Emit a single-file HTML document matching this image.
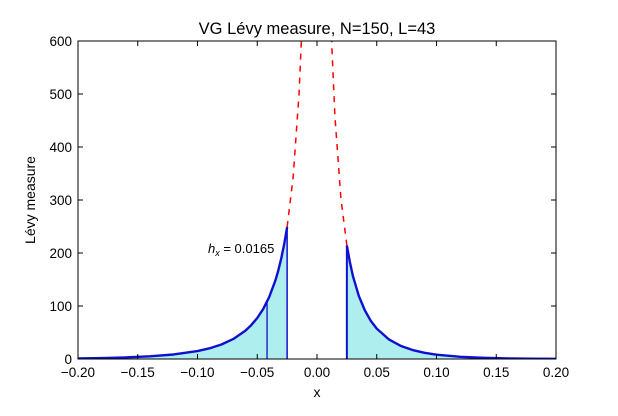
<!DOCTYPE html>
<html><head><meta charset="utf-8"><style>
body{margin:0;background:#fff;}
svg text{font-family:"Liberation Sans",sans-serif;}
</style></head><body>
<svg id="chart" width="618" height="411" xmlns="http://www.w3.org/2000/svg"></svg>
<script>
const leftX=[-0.2,-0.18,-0.16,-0.14,-0.12,-0.1,-0.09,-0.08,-0.07,-0.06,-0.055,-0.05,-0.045,-0.04,-0.035,-0.0325,-0.03,-0.0275,-0.025];
const leftY=[1.1,1.8,3.0,5.0,8.5,15.0,20.1,27.4,37.8,53.3,64,77.4,94.5,117,147,166,189,216,249];
const rightX=[0.025,0.0275,0.03,0.035,0.04,0.045,0.05,0.06,0.07,0.08,0.09,0.1,0.12,0.14,0.16,0.18,0.2];
const rightY=[214,183,157,119,92,72,57.3,37.2,24.8,16.9,11.7,8.2,4.15,2.16,1.15,0.62,0.34];
const dashLX=[-0.025,-0.02,-0.015,-0.0125];
const dashLY=[249,342,501,631];
const dashRX=[0.025,0.02,0.015,0.0125,0.012];
const dashRY=[214,303,458,585,617];
const markerX=-0.0418, markerY=110;
const xTicks=[-0.2,-0.15,-0.1,-0.05,0,0.05,0.1,0.15,0.2];
const xTickLabels=["\u22120.20","\u22120.15","\u22120.10","\u22120.05","0.00","0.05","0.10","0.15","0.20"];
const yTicks=[0,100,200,300,400,500,600];
const yTickLabels=["0","100","200","300","400","500","600"];

const L=78,R=556,T=41,B=359;
const sx=v=>L+(v+0.2)/0.4*(R-L);
const sy=v=>B-v/600*(B-T);
const svg=document.getElementById('chart');
const NS='http://www.w3.org/2000/svg';
function mk(tag,attrs,parent){const e=document.createElementNS(NS,tag);for(const k in attrs)e.setAttribute(k,attrs[k]);(parent||svg).appendChild(e);return e;}
const defs=mk('defs',{});const cp=mk('clipPath',{id:'clip'},defs);mk('rect',{x:L,y:T,width:R-L,height:B-T},cp);
const g=mk('g',{'clip-path':'url(#clip)'});
const pts=(xs,ys)=>xs.map((x,i)=>sx(x)+','+sy(ys[i])).join(' ');
let a=mk('polygon',{points:sx(leftX[0])+','+sy(0)+' '+pts(leftX,leftY)+' '+sx(leftX[leftX.length-1])+','+sy(0),fill:'#afeeee',stroke:'none'},g);

a=mk('polygon',{points:sx(rightX[0])+','+sy(0)+' '+pts(rightX,rightY)+' '+sx(rightX[rightX.length-1])+','+sy(0),fill:'#afeeee',stroke:'none'},g);

let d=mk('polyline',{points:pts(dashLX,dashLY),fill:'none',stroke:'red',"stroke-width":1.5,"stroke-dasharray":"6,6"},g);

d=mk('polyline',{points:pts(dashRX,dashRY),fill:'none',stroke:'red',"stroke-width":1.5,"stroke-dasharray":"6,6"},g);

let v=mk('line',{x1:sx(markerX),x2:sx(markerX),y1:sy(0),y2:sy(markerY),stroke:'#1010d0',"stroke-width":1.3},g);

v=mk('line',{x1:sx(leftX[leftX.length-1]),x2:sx(leftX[leftX.length-1]),y1:sy(0),y2:sy(leftY[leftY.length-1]),stroke:'#1010d0',"stroke-width":1.5},g);

v=mk('line',{x1:sx(rightX[0]),x2:sx(rightX[0]),y1:sy(0),y2:sy(rightY[0]),stroke:'#1010d0',"stroke-width":2},g);

let c=mk('polyline',{points:pts(leftX,leftY),fill:'none',stroke:'#1010d0',"stroke-width":2.4,"stroke-linejoin":"round"},g);

c=mk('polyline',{points:pts(rightX,rightY),fill:'none',stroke:'#1010d0',"stroke-width":2.4,"stroke-linejoin":"round"},g);

let fr=mk('rect',{x:L,y:T,width:R-L,height:B-T,fill:'none',stroke:'#000',"stroke-width":1});

xTicks.forEach((t,i)=>{const x=sx(t);
mk('line',{x1:x,x2:x,y1:B,y2:B-5,stroke:'#000'});mk('line',{x1:x,x2:x,y1:T,y2:T+5,stroke:'#000'});
const tx=mk('text',{x:x,y:B+18,'text-anchor':'middle','font-size':13.5});tx.textContent=xTickLabels[i];
});
yTicks.forEach((t,i)=>{const y=sy(t);
mk('line',{x1:L,x2:L+5,y1:y,y2:y,stroke:'#000'});mk('line',{x1:R,x2:R-5,y1:y,y2:y,stroke:'#000'});
const tx=mk('text',{x:L-6,y:y+5,'text-anchor':'end','font-size':13.5});tx.textContent=yTickLabels[i];
});
</script>
<svg width="618" height="411" style="position:absolute;left:0;top:0">
<text x="317" y="34" text-anchor="middle" font-size="16.5" font-family="Liberation Sans">VG Lévy measure, N=150, L=43</text>
<text x="317" y="397" text-anchor="middle" font-size="14" font-family="Liberation Sans">x</text>
<text transform="translate(35,200) rotate(-90)" text-anchor="middle" font-size="14" font-family="Liberation Sans">Lévy measure</text>
<text x="208" y="253" font-size="13" font-family="Liberation Serif"><tspan font-style="italic">h</tspan><tspan font-style="italic" font-size="9" dy="3">x</tspan><tspan dy="-3"> = 0.0165</tspan></text>
</svg>
</body></html>
